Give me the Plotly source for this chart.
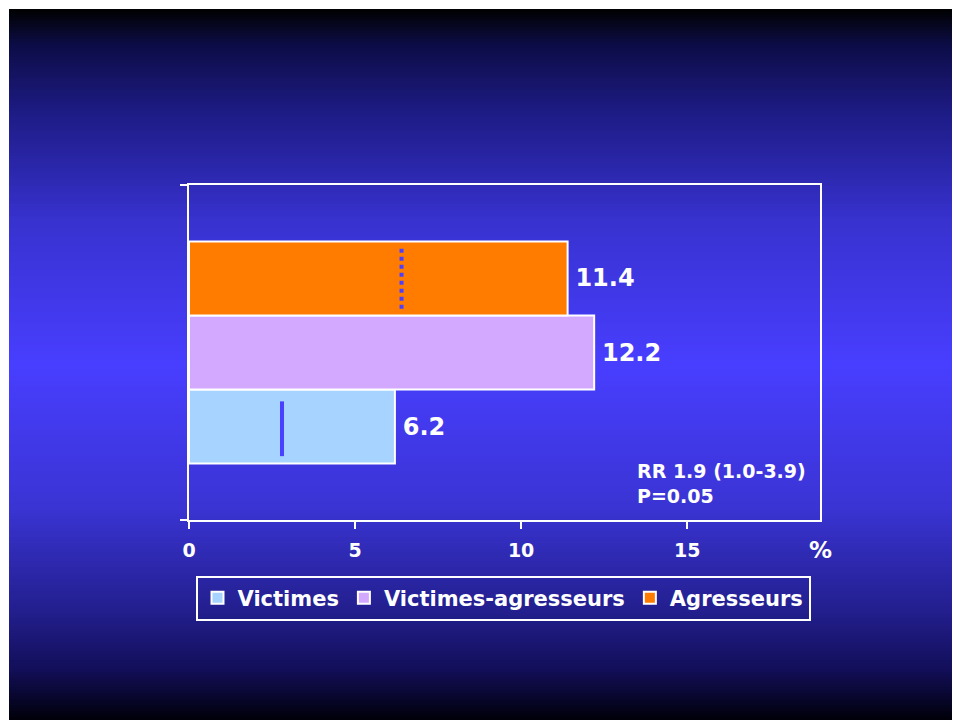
import plotly.graph_objects as go

# ---------------- data ----------------
series_names = ["Victimes", "Victimes-agresseurs", "Agresseurs"]
series_values = [6.2, 12.2, 11.4]
x_tick_values = [0, 5, 10, 15]
x_tick_labels = ["0", "5", "10", "15"]
marker_series = ["Victimes", "Agresseurs"]
marker_values = [2.8, 6.4]
note_lines = ["RR 1.9 (1.0-3.9)", "P=0.05"]

# ---------------- style ----------------
bar_colors = ["#A6D3FF", "#D3A9FF", "#FF7C00"]
marker_dash = ["solid", "4px,4px"]
marker_extent = [(0.40, 0.34), (0.41, 0.43)]  # fraction of bar width below / above centre
W, H = 954, 720
ML, MR, MT, MB = 9, 2, 9, 0
PW, PH = W - ML - MR, H - MT - MB
FONT = "DejaVu Sans"
BARGAP = 0.337

def px_x(p):
    return (p - ML) / PW

def px_y(p):
    return (H - MB - p) / PH

fig = go.Figure()

# gradient background strips (paper coords)
stops = [(0.0, (0, 0, 0)), (0.05, (12, 12, 70)), (0.15, (30, 28, 135)),
         (0.3, (56, 50, 208)), (0.5, (72, 62, 255)), (0.7, (58, 52, 212)),
         (0.85, (34, 30, 140)), (0.93, (18, 14, 88)), (1.0, (0, 0, 8))]

def grad(t):
    for (t0, c0), (t1, c1) in zip(stops[:-1], stops[1:]):
        if t0 <= t <= t1:
            f = (t - t0) / (t1 - t0) if t1 > t0 else 0
            return tuple(round(a + (b - a) * f) for a, b in zip(c0, c1))
    return stops[-1][1]

shapes = []
step = 3
n = PH // step + 1
for i in range(n):
    top = i * step
    bot = min(PH, top + step)
    t = (top + step / 2) / PH
    c = grad(min(t, 1.0))
    shapes.append(dict(type="rect", xref="paper", yref="paper",
                       x0=0, x1=1, y0=1 - bot / PH - 0.001, y1=1 - top / PH,
                       fillcolor="rgb(%d,%d,%d)" % c, line=dict(width=0),
                       layer="below"))

for name, val, col in zip(series_names, series_values, bar_colors):
    fig.add_trace(go.Bar(
        name=name, x=[val], y=[0], orientation="h",
        marker=dict(color=col, line=dict(color="white", width=2)),
        text=["\u2009" + f"{val:.1f}"], textposition="outside", cliponaxis=False,
        textfont=dict(family=FONT, size=24, color="white", weight="bold"),
    ))

bw = (1 - BARGAP) / len(series_names)
for name, val, dash, (lo, hi) in zip(marker_series, marker_values, marker_dash, marker_extent):
    i = series_names.index(name)
    c = -0.5 * (1 - BARGAP) + bw * (i + 0.5)
    fig.add_trace(go.Scatter(
        x=[val, val], y=[c - bw * lo, c + bw * hi], mode="lines",
        line=dict(color="#4B40FF", width=4, dash=dash),
        showlegend=False, hoverinfo="skip",
    ))

fig.update_layout(
    width=W, height=H,
    margin=dict(l=ML, r=MR, t=MT, b=MB),
    paper_bgcolor="white", plot_bgcolor="rgba(0,0,0,0)",
    barmode="group", bargap=BARGAP, bargroupgap=0,
    shapes=shapes,
    showlegend=True,
    legend=dict(orientation="h", x=px_x(503), y=px_y(598),
                xanchor="center", yanchor="middle", traceorder="normal",
                font=dict(family=FONT, size=21, color="white", weight="bold"),
                bgcolor="rgba(0,0,0,0)", bordercolor="white", borderwidth=2,
                itemwidth=30),
    xaxis=dict(domain=[px_x(189), px_x(820)], range=[0, 19],
               tickvals=x_tick_values, ticktext=x_tick_labels,
               ticks="outside", ticklen=7, tickwidth=2, tickcolor="white",
               showline=True, linecolor="white", linewidth=2, mirror=True,
               showgrid=False, zeroline=False, ticklabelstandoff=5,
               tickfont=dict(family=FONT, size=19, color="white", weight="bold")),
    yaxis=dict(domain=[px_y(520), px_y(185)], range=[-0.5, 0.5],
               tickvals=[-0.5, 0.5], showticklabels=False,
               ticks="outside", ticklen=7, tickwidth=2, tickcolor="white",
               showline=True, linecolor="white", linewidth=2, mirror=True,
               showgrid=False, zeroline=False),
    annotations=[
        dict(text="%", xref="paper", yref="paper", x=px_x(820), y=px_y(550),
             xanchor="center", yanchor="middle", showarrow=False,
             font=dict(family=FONT, size=23, color="white", weight="bold")),
        dict(text="<br>".join(note_lines), xref="paper", yref="paper",
             x=px_x(635), y=px_y(483), xanchor="left", yanchor="middle",
             align="left", showarrow=False,
             font=dict(family=FONT, size=19, color="white", weight="bold")),
    ],
)

fig.write_html("out.html")
